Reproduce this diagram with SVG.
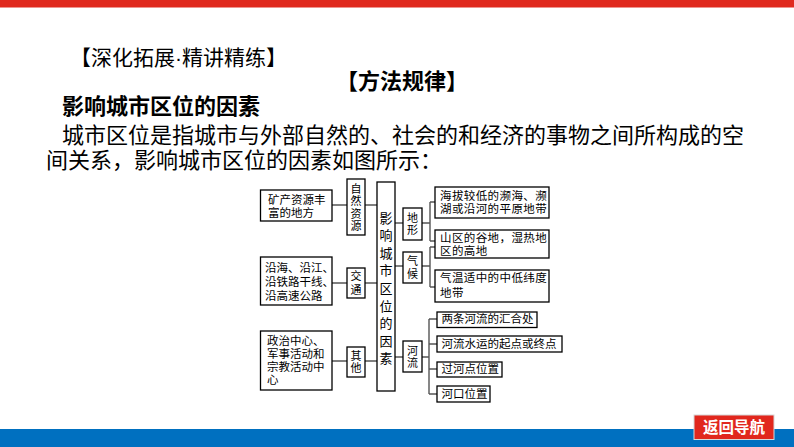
<svg xmlns="http://www.w3.org/2000/svg" width="794" height="447" viewBox="0 0 794 447">
<style>
text{font-family:"Liberation Sans","Noto Sans CJK SC","Noto Sans CJK TC",sans-serif;fill:#000;dominant-baseline:central}
.hd{font-size:21px}
.t22{font-size:22px}
.b{font-weight:bold}
.bx{fill:#fff;stroke:#000;stroke-width:1.3}
.s{font-size:11.5px}
.m{font-size:11.5px;letter-spacing:0.4px}
.v{font-size:11px;text-anchor:middle}
.c{font-size:13px;text-anchor:middle}
#connectors path{fill:none;stroke:#555;stroke-width:1.4}
</style>
<rect x="0" y="0" width="794" height="7.5" fill="#e0291e"/>
<rect x="0" y="429" width="794" height="18" fill="#0070c0"/>
<g id="texts">
<text class="hd" x="70" y="57.5">【深化拓展·精讲精练】</text>
<text class="t22 b" x="402" y="81" text-anchor="middle">【方法规律】</text>
<text class="t22 b" x="62" y="106">影响城市区位的因素</text>
<text class="t22" x="62" y="135">城市区位是指城市与外部自然的、社会的和经济的事物之间所构成的空</text>
<text class="t22" x="46" y="160">间关系，影响城市区位的因素如图所示：</text>
</g>
<g id="connectors">
<path d="M332 205H347M365 205H377M332 283H347M365 283H377M332 361H347M365 361H377"/>
<path d="M395 223H403M422 223H430M430 202V241M430 202H435M430 241H435"/>
<path d="M395 266H403M422 266H430M430 247V287M430 247H435M430 287H435"/>
<path d="M395 357H403M422 357H429M429 319V394M429 319H437M429 344H437M429 369H437M429 394H437"/>
</g>
<g id="n-kuangchan">
<rect class="bx" x="260.5" y="190" width="71.5" height="31"/>
<text class="s"><tspan x="268" y="199.5">矿产资源丰</tspan><tspan x="268" y="212.5">富的地方</tspan></text>
</g>
<g id="n-ziran">
<rect class="bx" x="347" y="179" width="18" height="56"/>
<text class="v"><tspan x="356" y="188.5">自</tspan><tspan x="356" y="201">然</tspan><tspan x="356" y="213.5">资</tspan><tspan x="356" y="226">源</tspan></text>
</g>
<g id="n-yanhai">
<rect class="bx" x="260.5" y="257" width="71.5" height="48"/>
<text class="s"><tspan x="265" y="267.5">沿海、沿江、</tspan><tspan x="265" y="281.5">沿铁路干线、</tspan><tspan x="265" y="295.5">沿高速公路</tspan></text>
</g>
<g id="n-jiaotong">
<rect class="bx" x="347" y="268" width="18" height="30"/>
<text class="v"><tspan x="356" y="276">交</tspan><tspan x="356" y="289.5">通</tspan></text>
</g>
<g id="n-zhengzhi">
<rect class="bx" x="260.5" y="331" width="71.5" height="59"/>
<text class="s"><tspan x="267" y="341">政治中心、</tspan><tspan x="267" y="354">军事活动和</tspan><tspan x="267" y="367">宗教活动中</tspan><tspan x="267" y="380">心</tspan></text>
</g>
<g id="n-qita">
<rect class="bx" x="347" y="347" width="18" height="30"/>
<text class="v"><tspan x="356" y="355.5">其</tspan><tspan x="356" y="368">他</tspan></text>
</g>
<g id="n-center">
<rect class="bx" x="377" y="182" width="18" height="209"/>
<text class="c"><tspan x="386" y="217.5">影</tspan><tspan x="386" y="235.1">响</tspan><tspan x="386" y="252.7">城</tspan><tspan x="386" y="270.3">市</tspan><tspan x="386" y="287.9">区</tspan><tspan x="386" y="305.5">位</tspan><tspan x="386" y="323.1">的</tspan><tspan x="386" y="340.7">因</tspan><tspan x="386" y="358.3">素</tspan></text>
</g>
<g id="n-dixing">
<rect class="bx" x="403" y="208" width="19" height="32"/>
<text class="v"><tspan x="412.5" y="217.5">地</tspan><tspan x="412.5" y="230">形</tspan></text>
</g>
<g id="n-qihou">
<rect class="bx" x="403" y="252" width="19" height="31"/>
<text class="v"><tspan x="412.5" y="261">气</tspan><tspan x="412.5" y="273.5">候</tspan></text>
</g>
<g id="n-heliu">
<rect class="bx" x="403" y="341" width="19" height="31"/>
<text class="v"><tspan x="412.5" y="350.5">河</tspan><tspan x="412.5" y="363">流</tspan></text>
</g>
<g id="n-haiba">
<rect class="bx" x="435" y="187" width="114" height="31"/>
<text class="m"><tspan x="440" y="196">海拔较低的濒海、濒</tspan><tspan x="440" y="209">湖或沿河的平原地带</tspan></text>
</g>
<g id="n-shanqu">
<rect class="bx" x="435" y="230" width="114" height="28"/>
<text class="m"><tspan x="440" y="237.5">山区的谷地，湿热地</tspan><tspan x="440" y="250.5">区的高地</tspan></text>
</g>
<g id="n-qiwen">
<rect class="bx" x="435" y="270" width="114" height="32"/>
<text class="m"><tspan x="440" y="277.5">气温适中的中低纬度</tspan><tspan x="440" y="293">地带</tspan></text>
</g>
<g id="n-r1">
<rect class="bx" x="437" y="312" width="100" height="15.5"/>
<text class="s" x="441.5" y="319">两条河流的汇合处</text>
</g>
<g id="n-r2">
<rect class="bx" x="437" y="336" width="125" height="16"/>
<text class="s" x="441.5" y="343.5">河流水运的起点或终点</text>
</g>
<g id="n-r3">
<rect class="bx" x="437" y="362" width="65" height="15"/>
<text class="s" x="441.5" y="369">过河点位置</text>
</g>
<g id="n-r4">
<rect class="bx" x="437" y="386" width="53" height="16"/>
<text class="s" x="441.5" y="393.5">河口位置</text>
</g>
<g id="btn-back">
<rect x="694" y="415" width="80" height="24.5" fill="#e1271d" stroke="#d8d8d8" stroke-width="1"/>
<text x="734" y="427" text-anchor="middle" style="font-size:15.5px;font-weight:bold;fill:#fff">返回导航</text>
</g>
</svg>
